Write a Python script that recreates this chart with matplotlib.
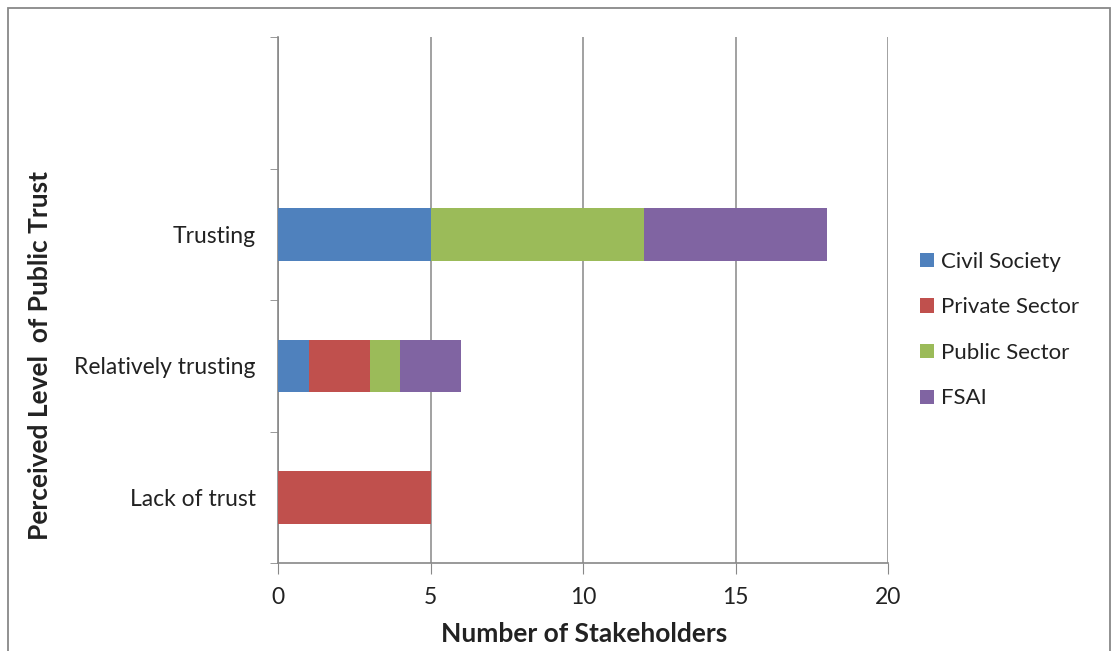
import numpy as np
import matplotlib.pyplot as plt
from matplotlib.patches import Rectangle

plt.rcParams['font.family'] = ['Lato', 'DejaVu Sans']

levels = ["Lack of trust", "Relatively trusting", "Trusting", ""]
groups = ["Civil Society", "Private Sector", "Public Sector", "FSAI"]
civil = [0, 1, 5, 0]
private = [5, 2, 0, 0]
public = [0, 1, 7, 0]
fsai = [0, 2, 6, 0]
colors = ["#4F81BD", "#C0504D", "#9BBB59", "#8064A2"]

fig = plt.figure(figsize=(11.12, 6.51), dpi=100)
ax = fig.add_axes([0.25, 0.135, 0.5486, 0.808])

y = np.arange(len(levels))
left = np.zeros(len(levels))
for name, vals, c in zip(groups, [civil, private, public, fsai], colors):
    ax.barh(y, vals, left=left, height=0.4, color=c, label=name, zorder=3)
    left += np.array(vals)

ax.set_xlim(0, 20)
ax.set_ylim(-0.5, 3.5)
ax.set_xticks([0, 5, 10, 15, 20])
ax.set_yticks(y)
ax.set_yticklabels(levels)
ax.set_yticks(np.arange(-0.5, 4, 1), minor=True)
ax.tick_params(axis='y', which='major', length=0, labelsize=16.5, pad=16, labelcolor='#222222')
ax.tick_params(axis='y', which='minor', length=6, color='#888888', direction='out')
ax.tick_params(axis='x', length=8, color='#888888', labelsize=16.5, pad=9, labelcolor='#222222')

ax.grid(axis='x', color='#888888', linewidth=1.1, zorder=1)
for s in ['top', 'right']:
    ax.spines[s].set_visible(False)
for s in ['left', 'bottom']:
    ax.spines[s].set_color('#888888')
    ax.spines[s].set_linewidth(1.2)

ax.set_xlabel("Number of Stakeholders", fontsize=19, fontweight='bold', color='#222222')
ax.xaxis.set_label_coords(0.502, -0.112)
ax.set_ylabel("Perceived Level  of Public Trust", fontsize=19, fontweight='bold',
              color='#222222')
ax.yaxis.set_label_coords(-0.37, 0.395)

ax.legend(loc='center left', bbox_to_anchor=(1.02, 0.443), frameon=False,
          fontsize=16, handlelength=0.6, handleheight=0.6, handletextpad=0.35,
          labelspacing=1.15, labelcolor='#222222')

# outer chart frame
fig.patches.append(Rectangle((0.007, -0.01), 0.991, 0.998, transform=fig.transFigure,
                             fill=False, edgecolor='#888888', linewidth=1.3))

fig.savefig("out.png", dpi=100, facecolor='white')
